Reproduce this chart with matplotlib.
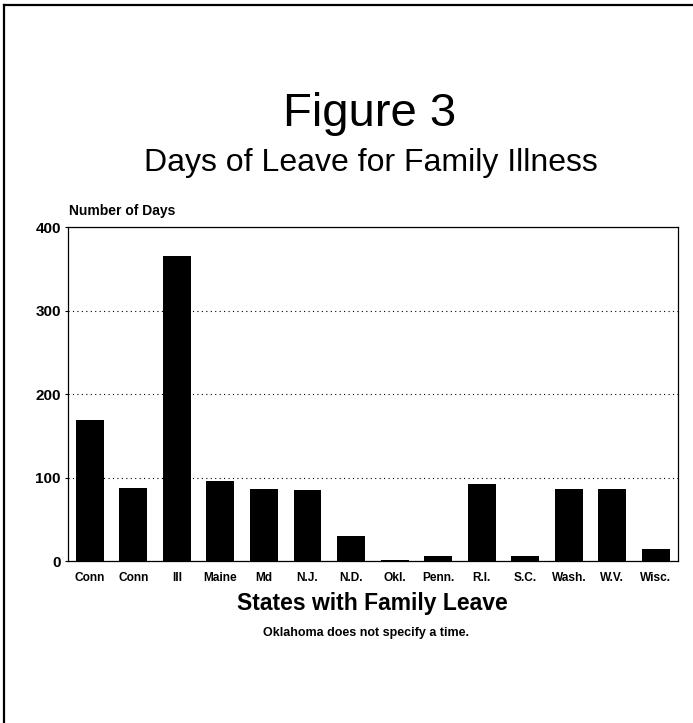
import matplotlib
matplotlib.use("Agg")
import matplotlib.pyplot as plt
from matplotlib.lines import Line2D

states = ["Conn", "Conn", "Ill", "Maine", "Md", "N.J.", "N.D.", "Okl.", "Penn.",
          "R.I.", "S.C.", "Wash.", "W.V.", "Wisc."]
days = [169, 87, 365, 96, 86, 85, 30, 1, 6, 92, 6, 86, 86, 15]
yticks = [0, 100, 200, 300, 400]

plt.rcParams['font.family'] = ['Liberation Sans', 'DejaVu Sans']

fig = plt.figure(figsize=(6.93, 7.23), dpi=100)
ax = fig.add_axes([0.098, 0.224, 0.880, 0.462])

x = list(range(len(states)))
ax.bar(x, days, width=0.64, color='black', zorder=3)
ax.set_xlim(-0.5, len(states) - 0.5)
ax.set_ylim(0, 400)
ax.set_yticks(yticks)
ax.set_yticklabels([str(v) for v in yticks], fontsize=11, fontweight='bold')
ax.set_xticks(x)
ax.set_xticklabels(states, fontsize=8.6, fontweight='bold')
ax.tick_params(axis='both', length=2, width=0.8, pad=3)
ax.tick_params(axis='x', length=0, pad=8)
for s in ax.spines.values():
    s.set_linewidth(0.9)
ax.yaxis.grid(True, linestyle=(0, (1, 3)), color='black', linewidth=0.8, zorder=1)

ax.set_xlabel("States with Family Leave", fontsize=16.5, fontweight='bold', labelpad=6)
fig.text(0.100, 0.699, "Number of Days", fontsize=10, fontweight='bold', ha='left', va='bottom')

fig.text(0.534, 0.842, "Figure 3", fontsize=34, ha='center', va='center')
fig.text(0.535, 0.775, "Days of Leave for Family Illness", fontsize=23, ha='center', va='center')
fig.text(0.528, 0.124, "Oklahoma does not specify a time.", fontsize=9, fontweight='bold',
         ha='center', va='center')

# page frame: top and left edges
fig.add_artist(Line2D([0.006, 1.0], [0.993, 0.993], transform=fig.transFigure, color='black', linewidth=1.6))
fig.add_artist(Line2D([0.006, 0.006], [0.0, 0.993], transform=fig.transFigure, color='black', linewidth=1.6))

fig.savefig("out.png", dpi=100)
